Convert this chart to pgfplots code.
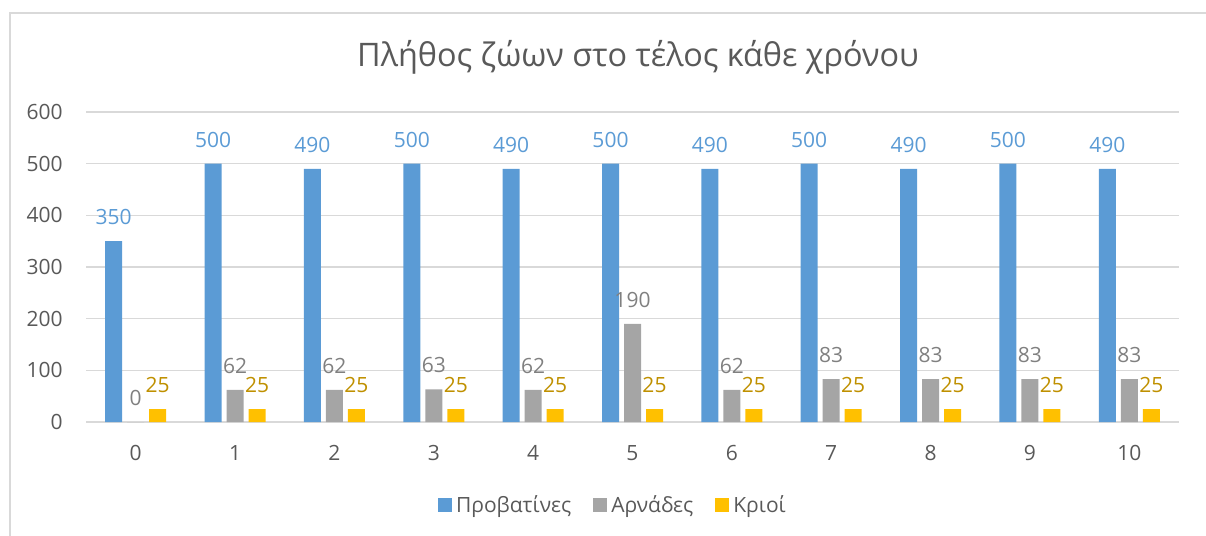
\documentclass[border=0pt]{standalone}
\usepackage{fontspec}
\setmainfont{Open Sans}
\usepackage{pgfplots}
\pgfplotsset{compat=1.18}

\definecolor{cblue}{HTML}{5B9BD5}
\definecolor{cgray}{HTML}{A5A5A5}
\definecolor{cgold}{HTML}{FFC000}
\definecolor{lblue}{HTML}{5B9BD5}
\definecolor{lgray}{HTML}{808080}
\definecolor{lgold}{HTML}{BF9000}
\definecolor{gridc}{HTML}{D9D9D9}
\definecolor{textc}{HTML}{595959}

\begin{document}
\begin{tikzpicture}
\path[use as bounding box] (0,0) rectangle (603pt,268pt);
% chart frame (only top and left edges are visible in the crop)
\draw[gridc, line width=0.8pt] (5pt,0pt) -- (5pt,261.5pt) -- (603pt,261.5pt);
\node[anchor=base, text=textc, font=\fontsize{16.2}{19}\selectfont]
  at (319pt,234.5pt) {Πλήθος ζώων στο τέλος κάθε χρόνου};

\begin{axis}[
  at={(43pt,57pt)}, anchor=south west,
  scale only axis, width=546.5pt, height=155pt,
  ybar=2.5pt, bar width=8.5pt,
  xmin=-0.5, xmax=10.5, ymin=0, ymax=600,
  xtick={0,...,10}, ytick={0,100,...,600},
  major tick length=0pt,
  axis line style={draw=none},
  ymajorgrids, grid style={gridc, line width=0.8pt},
  tick label style={text=textc, font=\fontsize{10.5}{12}\selectfont},
  /pgf/number format/assume math mode=true,
  xticklabel style={anchor=center, yshift=-15.5pt},
  yticklabel style={anchor=east, inner sep=0pt, xshift=-11.5pt},
  nodes near coords,
  every node near coord/.append style={anchor=center, yshift=12pt,
    font=\fontsize{10.5}{12}\selectfont},
  legend columns=3,
  legend style={draw=none, fill=none, at={(0.483,-0.268)}, anchor=center,
    font=\fontsize{10.5}{12}\selectfont, text=textc,
    /tikz/every even column/.append style={column sep=9pt}},
  legend image code/.code={\fill[#1] (0pt,-3.5pt) rectangle (7pt,3.5pt);},
]
\addplot[fill=cblue, draw=none, every node near coord/.append style={text=lblue}]
  coordinates {(0,350) (1,500) (2,490) (3,500) (4,490) (5,500) (6,490) (7,500) (8,490) (9,500) (10,490)};
\addplot[fill=cgray, draw=none, every node near coord/.append style={text=lgray}]
  coordinates {(0,0) (1,62) (2,62) (3,63) (4,62) (5,190) (6,62) (7,83) (8,83) (9,83) (10,83)};
\addplot[fill=cgold, draw=none, every node near coord/.append style={text=lgold}]
  coordinates {(0,25) (1,25) (2,25) (3,25) (4,25) (5,25) (6,25) (7,25) (8,25) (9,25) (10,25)};
\legend{Προβατίνες, Αρνάδες, Κριοί}
\end{axis}
\end{tikzpicture}
\end{document}
